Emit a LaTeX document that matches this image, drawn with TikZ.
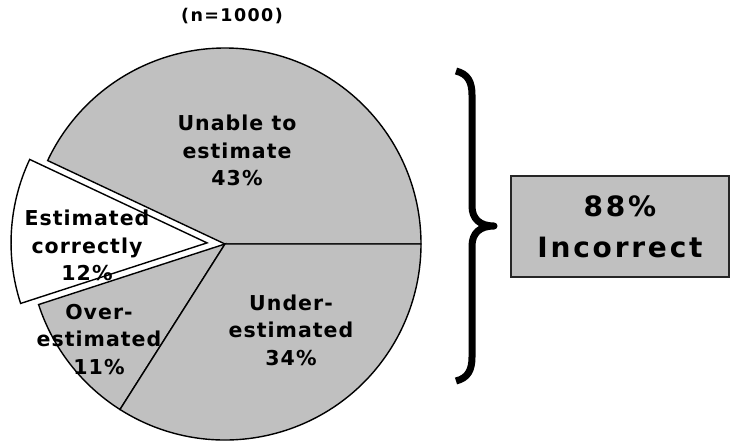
\documentclass[tikz,border=0pt]{standalone}
\usepackage{fontspec}
\usetikzlibrary{calc}
\newfontfamily\labfont[LetterSpace=5]{DejaVu Sans}
\newfontfamily\ttlfont[LetterSpace=8]{DejaVu Sans}
\newfontfamily\bxfont[LetterSpace=10]{DejaVu Sans}
\definecolor{piegray}{HTML}{C0C0C0}
\begin{document}
\begin{tikzpicture}[x=1pt,y=1pt,
  slice/.style={draw=black,line width=1.4pt,fill=piegray,line join=miter},
  wslice/.style={draw=black,line width=1.4pt,fill=white,line join=miter},
  lab/.style={align=center,inner sep=0pt,font=\labfont\bfseries\fontsize{20.5}{27.5}\selectfont},
  ttl/.style={inner sep=0pt,font=\ttlfont\bfseries\fontsize{17.5}{20}\selectfont},
  resbox/.style={draw=black!85,line width=1.8pt,fill=piegray,minimum width=218pt,minimum height=101pt,align=center,inner sep=0pt,font=\bxfont\bfseries\fontsize{28}{41}\selectfont},
  bracestyle/.style={line width=7pt,line cap=butt,line join=round}]
\useasboundingbox (0,0) rectangle (730,440);
\coordinate (C) at (225,196);
% slices
\draw[slice] (C) -- ++(0:196) arc[start angle=0,end angle=154.8,radius=196] -- cycle;
\draw[slice] (C) -- ++(198:196) arc[start angle=198,end angle=237.6,radius=196] -- cycle;
\draw[slice] (C) -- ++(237.6:196) arc[start angle=237.6,end angle=360,radius=196] -- cycle;
\coordinate (E) at ($(C)+(176.4:18)$);
\draw[wslice] (E) -- ++(154.8:196) arc[start angle=154.8,end angle=198,radius=196] -- cycle;
% labels
\node[ttl] (title) at (232,424) {(n=1000)};
\node[lab] (unable) at (237,289.5) {Unable to\\estimate\\43\%};
\node[lab] (under) at (291,110) {Under-\\estimated\\34\%};
\node[lab] (correct) at (87,194.5) {Estimated\\correctly\\12\%};
\node[lab] (over) at (99,100.5) {Over-\\estimated\\11\%};
% brace
\draw[bracestyle] (456,369) .. controls (468,366) and (472,358) .. (472,345)
  -- (472,234) .. controls (472,221) and (480,214) .. (494,214)
  .. controls (480,214) and (472,207) .. (472,194)
  -- (472,83) .. controls (472,70) and (468,62) .. (456,59);
% result box
\node[resbox] (result) at (620,213.5) {88\%\\Incorrect};
\end{tikzpicture}
\end{document}
